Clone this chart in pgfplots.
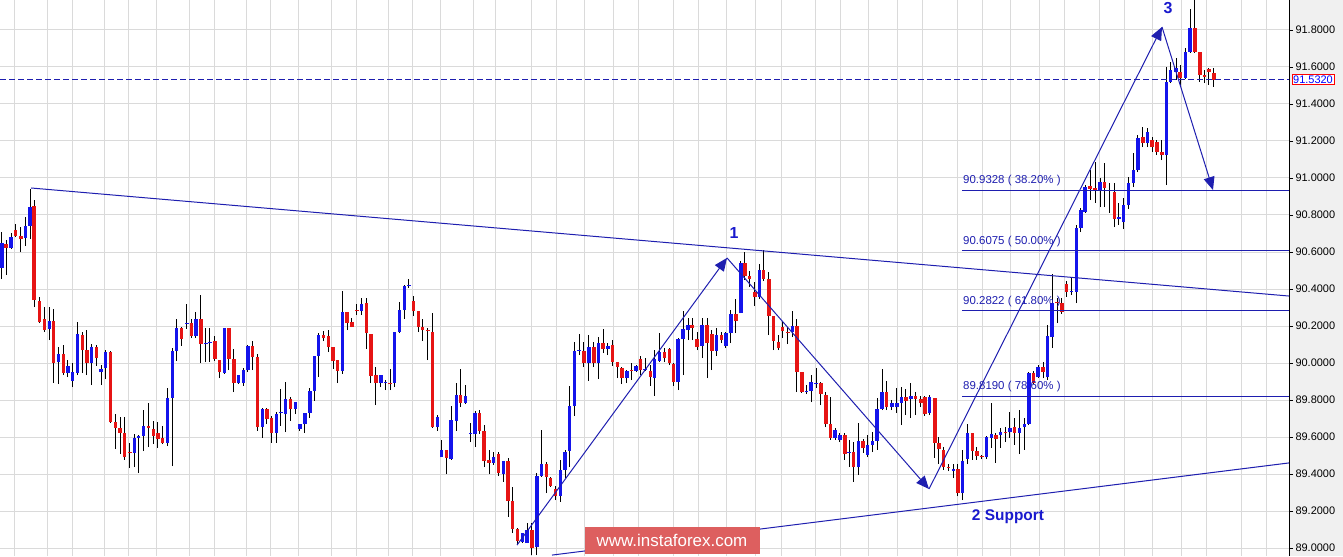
\documentclass[border=0pt]{standalone}
\usepackage{fontspec}
\setmainfont{Liberation Sans}
\usepackage{pgfplots}
\pgfplotsset{compat=1.18}
\usepackage{pgfplotstable}
\usetikzlibrary{arrows.meta,backgrounds}

\definecolor{upblue}{RGB}{20,20,235}
\definecolor{downred}{RGB}{230,20,20}
\definecolor{annot}{RGB}{30,30,175}
\definecolor{labelblue}{RGB}{25,25,205}
\definecolor{gridgray}{RGB}{218,218,218}
\definecolor{panelgray}{RGB}{240,240,240}
\definecolor{wmred}{RGB}{221,95,95}

\tikzset{
  fib/.style={annot, line width=1bp},
  fiblabel/.style={anchor=south west, inner sep=1bp, yshift=3bp, text=annot,
    font=\fontsize{11.5}{13}\selectfont},
  wave/.style={annot, line width=1bp, -{Triangle[length=13bp,width=11bp]}},
}
\pgfplotsset{
  candle/.style 2 args={draw=none, no markers, forget plot,
    error bars/.cd, y dir=plus, y explicit, error mark=none,
    error bar style={draw=#1, line width=#2}},
}

% rising candles: x  open  high  low  close
\pgfplotstableread{
x o h l c
1.7 90.514 90.708 90.454 90.649
11 90.622 90.703 90.616 90.681
25.3 90.676 90.789 90.632 90.741
30 90.741 90.940 90.670 90.843
49.3 90.184 90.302 90.124 90.227
58.3 90.005 90.086 89.886 90.048
67.7 89.946 90.016 89.924 89.984
72.3 89.903 90.000 89.870 89.951
77.3 89.946 90.221 89.935 90.156
91.3 90.000 90.102 89.881 90.086
101 89.951 89.989 89.881 89.968
105.3 89.973 90.070 89.913 90.059
134.3 89.514 89.617 89.438 89.595
138.3 89.595 89.611 89.405 89.606
143.3 89.606 89.746 89.524 89.660
167.3 89.568 89.865 89.551 89.811
172.3 89.811 90.081 89.443 90.065
176.3 90.065 90.238 90.011 90.189
186.7 90.211 90.319 90.184 90.216
195.7 90.146 90.275 90.135 90.238
205.7 90.102 90.189 90.005 90.108
209.7 90.108 90.189 90.005 90.113
224.3 89.946 90.189 89.941 90.189
238.3 89.892 89.935 89.886 89.935
243.3 89.892 89.973 89.876 89.962
247.7 89.962 90.097 89.951 90.092
262.3 89.654 89.757 89.595 89.751
276.3 89.622 89.735 89.568 89.724
280.7 89.730 89.859 89.660 89.735
285.3 89.724 89.897 89.627 89.805
295.3 89.751 89.789 89.724 89.789
299.7 89.643 89.670 89.633 89.670
304.7 89.670 89.730 89.622 89.730
309.7 89.730 89.865 89.703 89.849
314.3 89.849 90.038 89.795 90.038
318.3 90.038 90.162 89.924 90.151
342.3 89.957 90.389 89.941 90.275
361.3 90.281 90.351 90.259 90.319
380.7 89.892 89.935 89.870 89.935
385.3 89.892 89.908 89.854 89.897
394.3 89.892 90.167 89.870 90.167
399.3 90.167 90.329 90.162 90.286
404.3 90.286 90.422 90.238 90.416
408.7 90.416 90.454 90.406 90.422
437.3 89.654 89.719 89.633 89.708
441.3 89.492 89.584 89.492 89.530
451 89.481 89.768 89.476 89.692
456.3 89.687 89.892 89.633 89.827
465.3 89.784 89.881 89.778 89.822
470.3 89.617 89.676 89.573 89.622
475 89.617 89.741 89.546 89.730
493.3 89.460 89.519 89.449 89.492
503.3 89.400 89.470 89.357 89.470
522.3 89.032 89.081 89.027 89.081
527 89.027 89.135 89.027 89.097
536.7 89.005 89.405 88.962 89.389
541.3 89.389 89.638 89.384 89.454
560.3 89.281 89.476 89.249 89.422
565 89.422 89.530 89.378 89.519
569.3 89.524 89.876 89.438 89.768
574.3 89.768 90.113 89.714 90.065
579 90.065 90.156 90.043 90.070
588.7 90.000 90.151 89.903 90.086
598.3 90.000 90.140 89.913 90.108
607.7 90.075 90.108 90.043 90.092
626.7 89.919 89.962 89.892 89.957
636 89.957 89.989 89.951 89.984
645 89.962 90.027 89.957 89.968
654.3 89.919 90.070 89.822 90.022
659.3 90.011 90.162 90.005 90.059
678 89.897 90.135 89.854 90.129
683 90.129 90.281 89.935 90.184
688 90.178 90.243 90.124 90.205
702 90.092 90.243 90.027 90.205
716.3 90.065 90.189 90.038 90.151
725.7 90.092 90.167 90.081 90.162
730.7 90.162 90.286 90.108 90.265
740.7 90.270 90.551 90.270 90.540
759.3 90.357 90.535 90.346 90.503
792.3 90.167 90.281 90.140 90.200
806.3 89.843 89.881 89.832 89.849
811 89.849 89.935 89.789 89.897
816 89.886 89.973 89.865 89.892
835 89.595 89.649 89.584 89.638
839.7 89.584 89.622 89.573 89.611
849 89.514 89.584 89.438 89.519
858.3 89.438 89.676 89.395 89.579
867.3 89.503 89.611 89.492 89.557
872.3 89.557 89.627 89.519 89.579
877 89.579 89.811 89.530 89.751
882 89.751 89.968 89.746 89.843
891.7 89.762 89.800 89.746 89.784
896.7 89.762 89.865 89.730 89.784
901.3 89.784 89.870 89.665 89.816
910.7 89.805 89.892 89.703 89.822
929.3 89.730 89.827 89.719 89.816
953.3 89.416 89.454 89.378 89.427
962.3 89.297 89.530 89.259 89.470
967.3 89.481 89.670 89.454 89.622
986.3 89.492 89.606 89.481 89.600
991.3 89.595 89.784 89.541 89.617
1000.3 89.611 89.649 89.541 89.627
1009.7 89.627 89.735 89.595 89.649
1019.3 89.622 89.746 89.508 89.649
1024.3 89.654 89.703 89.530 89.670
1028.7 89.670 89.951 89.665 89.946
1038 89.924 89.989 89.919 89.978
1047.3 89.924 90.205 89.908 90.146
1052 90.140 90.481 90.081 90.324
1071.3 90.384 90.459 90.367 90.389
1076.3 90.384 90.746 90.324 90.730
1080.7 90.730 90.838 90.708 90.827
1085 90.816 90.962 90.811 90.951
1100 90.930 91.000 90.843 90.978
1109.3 90.930 90.973 90.811 90.935
1118.7 90.778 90.865 90.746 90.789
1123.3 90.762 90.892 90.724 90.854
1128.3 90.854 91.005 90.832 90.973
1133.3 90.973 91.135 90.951 91.043
1137.7 91.043 91.232 91.032 91.216
1147.3 91.189 91.270 91.167 91.248
1166.3 91.124 91.600 90.962 91.519
1170.3 91.519 91.627 91.513 91.584
1176 91.573 91.649 91.530 91.595
1185.3 91.540 91.703 91.535 91.681
1190 91.681 91.913 91.676 91.811
}\upcandles

% falling candles: x  open  high  low  close
\pgfplotstableread{
x o h l c
6 90.643 90.665 90.476 90.622
15.3 90.719 90.751 90.681 90.687
20.7 90.687 90.735 90.600 90.670
34 90.849 90.881 90.302 90.340
39.3 90.335 90.357 90.216 90.221
44.3 90.238 90.302 90.167 90.178
53.3 90.227 90.292 89.892 90.000
63.3 90.048 90.097 89.935 89.946
82.3 90.151 90.167 89.946 90.070
86.7 90.070 90.178 89.935 90.000
96.3 90.086 90.097 89.984 90.027
110.3 90.059 90.065 89.676 89.681
115.3 89.681 89.724 89.535 89.649
120 89.649 89.708 89.508 89.622
124.3 89.622 89.708 89.476 89.492
129.7 89.519 89.568 89.433 89.514
148.3 89.660 89.784 89.546 89.649
153.3 89.643 89.687 89.562 89.606
157.7 89.622 89.681 89.541 89.589
162.3 89.595 89.660 89.562 89.568
181.3 90.189 90.194 90.092 90.129
191.3 90.216 90.238 90.135 90.146
200.7 90.238 90.367 90.000 90.102
214.7 90.119 90.146 90.011 90.022
219.3 90.016 90.016 89.919 89.951
228.7 90.189 90.189 89.962 90.022
233.7 90.022 90.075 89.843 89.892
252.3 90.092 90.119 89.962 90.032
257.3 90.032 90.048 89.633 89.654
266.7 89.751 89.757 89.670 89.697
271.3 89.703 89.714 89.568 89.622
290.3 89.805 89.816 89.687 89.751
323.3 90.151 90.173 90.119 90.135
328.3 90.146 90.178 90.059 90.086
333 90.086 90.086 89.968 90.011
337.3 90.016 90.016 89.892 89.957
347 90.275 90.275 90.178 90.216
351.7 90.221 90.243 90.194 90.194
356.7 90.286 90.319 90.259 90.281
366.3 90.324 90.351 90.075 90.162
370.7 90.156 90.156 89.892 89.930
375.7 89.935 89.978 89.773 89.892
390 89.892 89.968 89.854 89.886
413.3 90.335 90.362 90.254 90.281
418.3 90.281 90.281 90.167 90.194
422.3 90.194 90.238 90.119 90.178
427.7 90.178 90.189 90.016 90.173
432.3 90.167 90.270 89.649 89.654
446.3 89.530 89.530 89.400 89.487
460.3 89.827 89.968 89.762 89.784
479.3 89.730 89.746 89.617 89.633
484 89.633 89.665 89.438 89.470
489 89.476 89.530 89.400 89.460
498.3 89.508 89.519 89.389 89.405
508 89.470 89.487 89.168 89.254
512.3 89.254 89.330 89.081 89.103
517.3 89.103 89.108 89.016 89.038
531.7 89.097 89.135 88.962 89.000
546.3 89.454 89.465 89.297 89.384
550.3 89.378 89.384 89.330 89.335
555.3 89.319 89.335 89.259 89.281
583.7 90.065 90.113 89.978 90.000
593.7 90.086 90.113 89.978 90.000
603 90.108 90.184 90.054 90.075
612.3 90.097 90.124 89.984 90.005
617.3 90.005 90.005 89.919 89.978
621.7 89.973 89.978 89.886 89.919
631.3 89.962 90.000 89.908 89.957
640.3 90.022 90.038 89.935 89.962
650.3 89.957 89.989 89.876 89.924
664.3 90.059 90.081 90.005 90.027
669.3 90.075 90.081 89.989 90.000
673.3 89.995 90.000 89.876 89.897
692 90.205 90.243 90.124 90.189
697 90.129 90.167 90.070 90.086
707 90.205 90.243 89.919 90.108
711.7 90.156 90.178 89.962 90.065
721.3 90.151 90.167 90.108 90.124
735.7 90.265 90.346 90.162 90.227
744.7 90.540 90.600 90.449 90.470
749.3 90.470 90.497 90.411 90.454
754.7 90.384 90.438 90.308 90.357
763.3 90.503 90.611 90.443 90.454
768.7 90.454 90.492 90.151 90.254
773.3 90.254 90.254 90.070 90.119
778.3 90.113 90.151 90.070 90.081
782.3 90.194 90.221 90.135 90.173
787.7 90.167 90.194 90.102 90.162
796.7 90.200 90.238 89.843 89.951
801.7 89.951 89.951 89.838 89.843
820.7 89.892 89.897 89.773 89.832
825.7 89.827 89.843 89.654 89.670
830.3 89.670 89.816 89.584 89.595
844.7 89.611 89.622 89.476 89.508
853.3 89.519 89.573 89.357 89.438
863 89.579 89.589 89.514 89.541
886.3 89.843 89.903 89.746 89.762
905.7 89.816 89.859 89.719 89.795
915.3 89.822 89.843 89.719 89.805
920.7 89.805 89.822 89.762 89.784
924.7 89.816 89.822 89.714 89.724
934.7 89.811 89.811 89.487 89.568
938.7 89.568 89.600 89.454 89.535
943.3 89.530 89.546 89.422 89.438
948.3 89.438 89.454 89.416 89.433
957.7 89.427 89.454 89.281 89.297
972.3 89.622 89.622 89.476 89.524
976.7 89.524 89.546 89.476 89.497
981.7 89.497 89.503 89.481 89.492
995.7 89.611 89.622 89.460 89.589
1005.3 89.627 89.654 89.573 89.622
1014.3 89.654 89.703 89.557 89.622
1033.3 89.946 89.957 89.886 89.892
1043 89.978 90.005 89.919 89.951
1057 90.329 90.351 90.216 90.324
1061.7 90.324 90.351 90.265 90.275
1066.3 90.427 90.443 90.357 90.384
1090 90.957 91.043 90.881 90.940
1095 90.946 91.086 90.865 90.930
1104.3 90.978 91.081 90.843 90.946
1114.3 90.924 90.973 90.735 90.778
1142.7 91.221 91.275 91.167 91.189
1152 91.205 91.221 91.140 91.167
1156.7 91.194 91.205 91.124 91.140
1161.7 91.140 91.205 91.097 91.124
1180 91.573 91.611 91.503 91.540
1194.7 91.811 91.962 91.676 91.681
1199.7 91.681 91.681 91.519 91.557
1204.3 91.557 91.584 91.513 91.546
1208.7 91.589 91.595 91.503 91.573
1213.7 91.568 91.595 91.492 91.532
}\downcandles

\begin{document}
\begin{tikzpicture}
\begin{axis}[
  scale only axis, width=1289bp, height=556bp,
  xmin=0, xmax=1289, ymin=88.957, ymax=91.962,
  clip=false,
  axis y line*=right, axis x line*=bottom,
  x axis line style={draw=none},
  y axis line style={black, line width=1bp},
  xtick={14.5,47.3,72.6,104.5,128.5,156.7,189.5,214.8,246.3,270.3,298.5,331.3,356.6,388.5,412.5,440.7,473.5,495.4,531.5,556.8,584.6,613.6,638.5,673.2,698.5,726.6,755.3,781,815.8,840.7,868.4,897.5,922.7,957.6,982.5,1010.2,1039.3,1064.5,1099.4,1124.2,1152.9,1181,1206.3,1241.6,1266},
  xticklabels={}, xtick style={draw=none},
  ytick={89,89.2,89.4,89.6,89.8,90,90.2,90.4,90.6,90.8,91,91.2,91.4,91.6,91.8},
  ytick style={black, line width=0.8bp},
  tick align=outside, major tick length=4bp,
  grid=major, major grid style={gridgray, line width=1bp},
  yticklabel style={font=\fontsize{11}{13}\selectfont, xshift=-1bp,
    /pgf/number format/.cd, fixed, fixed zerofill, precision=4, assume math mode=true},
]
\coordinate (ll) at (rel axis cs:0,0);
\coordinate (ur) at (rel axis cs:1,1);

% wicks
\addplot[candle={black}{1bp}]
  table[x=x, y=l, y error plus expr=\thisrow{h}-\thisrow{l}] {\upcandles};
\addplot[candle={black}{1bp}]
  table[x=x, y=l, y error plus expr=\thisrow{h}-\thisrow{l}] {\downcandles};
% bodies
\addplot[candle={upblue}{3.6bp}]
  table[x=x, y=o, y error plus expr=\thisrow{c}-\thisrow{o}] {\upcandles};
\addplot[candle={downred}{3.6bp}]
  table[x=x, y=c, y error plus expr=\thisrow{o}-\thisrow{c}] {\downcandles};

% trend lines
\draw[annot, line width=1bp] (axis cs:31,90.946) -- (axis cs:1289,90.362);
\draw[annot, line width=1bp] (axis cs:552,88.962) -- (axis cs:1289,89.460);

% fibonacci levels
\draw[fib] (axis cs:962,90.9328) -- (axis cs:1289,90.9328);
\draw[fib] (axis cs:962,90.6075) -- (axis cs:1289,90.6075);
\draw[fib] (axis cs:962,90.2822) -- (axis cs:1289,90.2822);
\draw[fib] (axis cs:962,89.8190) -- (axis cs:1289,89.8190);
\node[fiblabel] at (axis cs:962,90.9328) {90.9328 ( 38.20\% )};
\node[fiblabel] at (axis cs:962,90.6075) {90.6075 ( 50.00\% )};
\node[fiblabel] at (axis cs:962,90.2822) {90.2822 ( 61.80\% )};
\node[fiblabel] at (axis cs:962,89.8190) {89.8190 ( 78.60\% )};

% wave arrows
\draw[wave] (axis cs:517,89.016) -- (axis cs:727,90.568);
\draw[wave] (axis cs:727,90.568) -- (axis cs:929,89.319);
\draw[wave] (axis cs:929,89.319) -- (axis cs:1162,91.816);
\draw[wave] (axis cs:1162,91.816) -- (axis cs:1213,90.935);

\node[text=labelblue, font=\bfseries\fontsize{16}{18}\selectfont] at (axis cs:734,90.703) {1};
\node[text=labelblue, font=\bfseries\fontsize{16}{18}\selectfont] at (axis cs:1168,91.919) {3};
\node[text=labelblue, font=\bfseries\fontsize{15.5}{18}\selectfont] at (axis cs:1008,89.168) {2 Support};

% last price
\draw[annot, line width=1bp, dash pattern=on 6bp off 3bp] (axis cs:0,91.532) -- (axis cs:1289,91.532);
\node[anchor=west, draw=red, fill=white, text=blue, inner sep=1bp, xshift=3bp,
  font=\fontsize{11}{13}\selectfont] at (axis cs:1289,91.532) {91.5320};

% watermark
\node[fill=wmred, text=white, minimum width=175bp, minimum height=27bp, inner sep=0pt,
  font=\fontsize{17}{19}\selectfont] at (axis cs:672,89.043) {www.instaforex.com};
\end{axis}
\begin{scope}[on background layer]
  \fill[panelgray] (ll -| ur) rectangle ([xshift=54bp]ur);
\end{scope}
\pgfresetboundingbox
\path[use as bounding box] (ll) rectangle ([xshift=54bp]ur);
\end{tikzpicture}
\end{document}
